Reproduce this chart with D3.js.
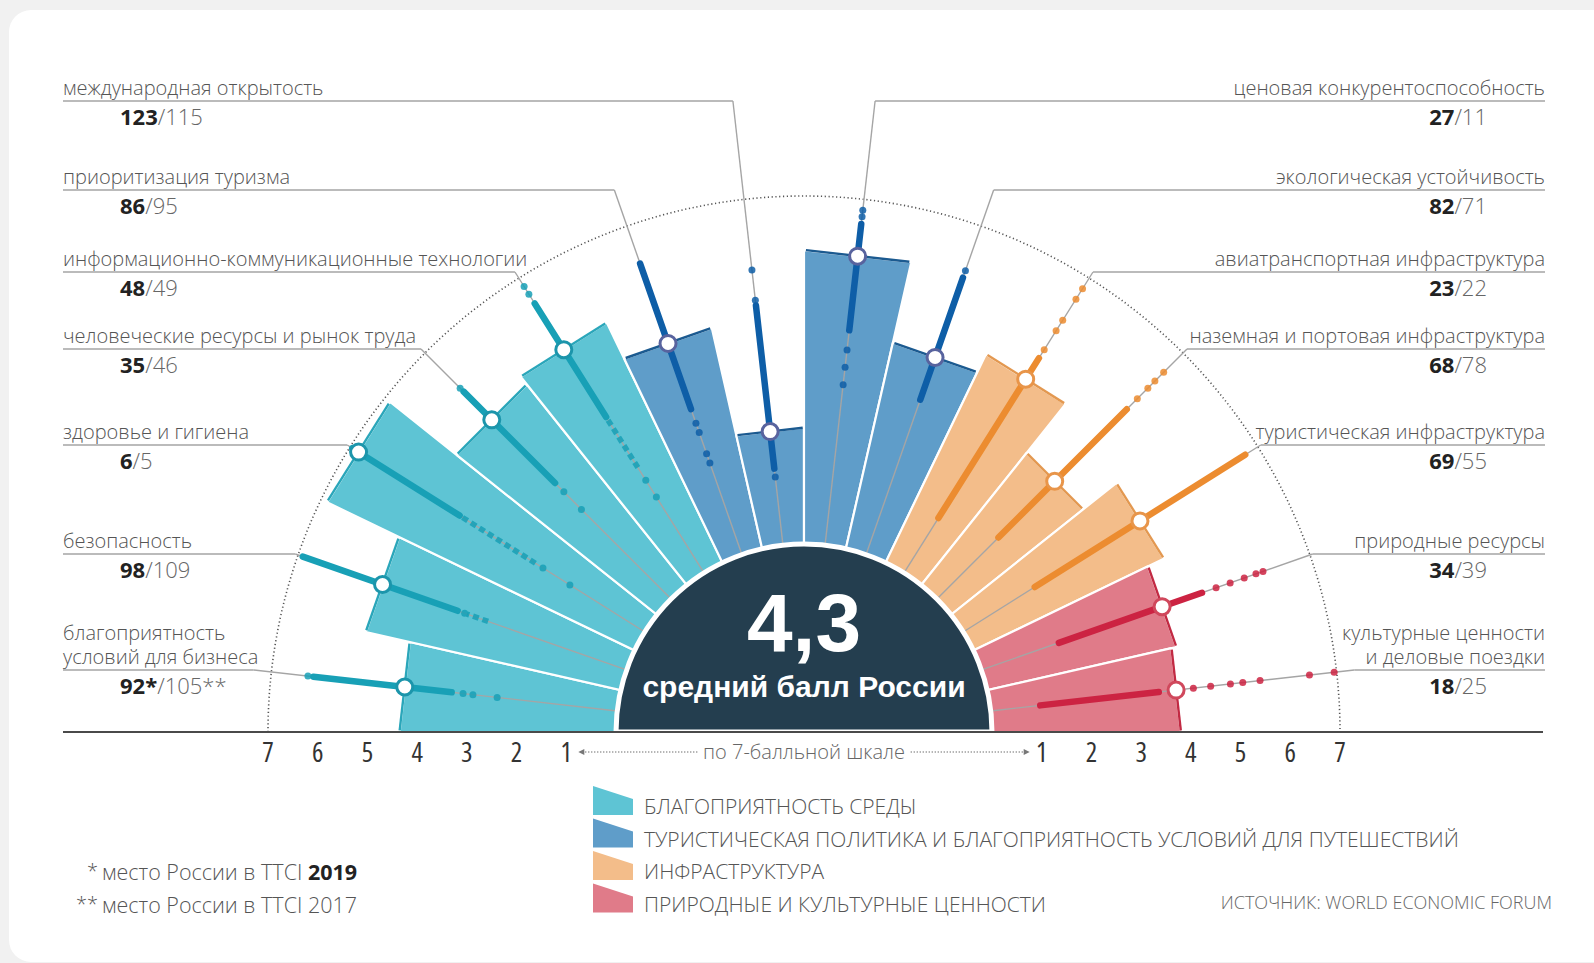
<!DOCTYPE html>
<html>
<head>
<meta charset="utf-8">
<script src="https://cdn.jsdelivr.net/npm/d3@7"></script>
<style>
  body { margin: 0; background: #f1f1f1; }
  svg { display: block; }
  .cond { font-family: "Open Sans", sans-serif; font-stretch: 75%; }
  .txt { font-family: "Open Sans", sans-serif; font-stretch: 100%; }
</style>
</head>
<body>
<div id="chart"></div>
<script>
// --- data ---
var pillars = [
  "благоприятность условий для бизнеса", "безопасность", "здоровье и гигиена",
  "человеческие ресурсы и рынок труда", "информационно-коммуникационные технологии",
  "приоритизация туризма", "международная открытость", "ценовая конкурентоспособность",
  "экологическая устойчивость", "авиатранспортная инфраструктура",
  "наземная и портовая инфраструктура", "туристическая инфраструктура",
  "природные ресурсы", "культурные ценности и деловые поездки"
];
var labelLines = [
  ["благоприятность", "условий для бизнеса"], ["безопасность"], ["здоровье и гигиена"],
  ["человеческие ресурсы и рынок труда"], ["информационно-коммуникационные технологии"],
  ["приоритизация туризма"], ["международная открытость"], ["ценовая конкурентоспособность"],
  ["экологическая устойчивость"], ["авиатранспортная инфраструктура"],
  ["наземная и портовая инфраструктура"], ["туристическая инфраструктура"],
  ["природные ресурсы"], ["культурные ценности", "и деловые поездки"]
];
var groups = [
  "БЛАГОПРИЯТНОСТЬ СРЕДЫ",
  "ТУРИСТИЧЕСКАЯ ПОЛИТИКА И БЛАГОПРИЯТНОСТЬ УСЛОВИЙ ДЛЯ ПУТЕШЕСТВИЙ",
  "ИНФРАСТРУКТУРА",
  "ПРИРОДНЫЕ И КУЛЬТУРНЫЕ ЦЕННОСТИ"
];
var pillarGroup = [0, 0, 0, 0, 0, 1, 1, 1, 1, 2, 2, 2, 3, 3];
var russiaScore = [4.3, 5.2, 6.8, 5.1, 5.3, 4.5, 2.3, 5.85, 4.2, 4.6, 3.35, 4.2, 3.85, 3.75];
var rank2019 = ["92*", "98", "6", "35", "48", "86", "123", "27", "82", "23", "68", "69", "34", "18"];
var rank2017 = ["105**", "109", "5", "46", "49", "95", "115", "11", "71", "22", "78", "55", "39", "25"];
var averageScore = 4.3;

// spread of all countries' scores: dense runs, loose runs and single dots
var denseRuns = [
  [[3.35, 6.15]], [[3.6, 6.9]], [[4.4, 6.95]], [[3.3, 5.9]], [[3.7, 6.4]],
  [[3.1, 6.2]], [[1.55, 4.85]], [[4.35, 6.5]], [[3.3, 5.9]], [[1.3, 5.1]],
  [[1.75, 5.4]], [[1.7, 6.7]], [[1.65, 3.7], [3.95, 4.7]], [[1.0, 3.4]]
];
var looseRuns = [
  [], [[2.95, 3.4]], [[2.6, 4.4]], [], [[2.5, 3.7]],
  [], [], [], [], [],
  [], [], [], []
];
var singleDots = [
  [6.26, 3.12, 2.92, 2.43], [3.45], [2.42, 1.78], [6.0, 3.05, 2.55], [6.8, 6.62, 2.2, 1.8],
  [2.8, 2.6, 2.15, 1.95], [4.96, 5.57, 1.38], [6.65, 6.78, 3.95, 3.6, 3.25], [6.05],
  [5.3, 5.75, 6.0, 6.5, 6.75], [5.7, 6.0, 6.2, 6.45], [],
  [5.0, 5.3, 5.6, 5.85, 6.0], [4.1, 4.45, 4.85, 5.1, 5.45, 6.45, 6.95]
];
var tickValues = [1, 2, 3, 4, 5, 6, 7];

// --- layout ---
var W = 1594, H = 963;
var cx = 804, cy = 732;
var rowY = [101, 190, 272, 349, 445, 554, 670];
var barColor = ["#5ec4d4", "#5f9dc9", "#f3bd8a", "#e07b89"];
var edgeColor = ["#2aa6ba", "#1b5a90", "#e39850", "#c22a43"];
var dotColor = ["#18a0b6", "#0e5ea7", "#ec8c30", "#cc2342"];
var ringColor = ["#1c95ab", "#58639e", "#e8954a", "#d0485c"];

var svg = d3.select("#chart").append("svg")
    .attr("width", W)
    .attr("height", H);

svg.append("rect")
    .attr("x", 9).attr("y", 10)
    .attr("width", W + 40).attr("height", H - 11)
    .attr("rx", 22)
    .attr("fill", "#fff");

var r = d3.scaleLinear().domain([0, 7]).range([188, 536]);
var angle = d3.scaleBand().domain(d3.range(pillars.length)).range([-Math.PI / 2, Math.PI / 2]);
var half = angle.bandwidth() / 2;

function pt(a, d) {
    return [cx + d * Math.sin(a), cy - d * Math.cos(a)];
}
function mid(i) { return angle(i) + half; }

var g = svg.append("g");

// outer dotted arc (7 points)
var arcPath = d3.path();
arcPath.arc(cx, cy, r(7), Math.PI, 2 * Math.PI);
g.append("path")
    .attr("d", arcPath.toString())
    .attr("fill", "none")
    .attr("stroke", "#555")
    .attr("stroke-width", 1.6)
    .attr("stroke-dasharray", "1.2,2.6");

// bars
var line = d3.line();
pillars.forEach(function(p, i) {
    var a0 = angle(i), a1 = a0 + angle.bandwidth();
    var R = r(russiaScore[i]) / Math.cos(half);
    var c = pillarGroup[i];
    g.append("path")
        .attr("d", line([[cx, cy], pt(a0, R), pt(a1, R)]) + "Z")
        .attr("fill", barColor[c])
        .attr("stroke", "#fff")
        .attr("stroke-width", 2.2)
        .attr("stroke-linejoin", "bevel");
    g.append("path")
        .attr("d", line([pt(a0 + 0.004, R), pt(a1 - 0.004, R)]))
        .attr("stroke", edgeColor[c])
        .attr("stroke-width", 2.4);
});

// radial spread lines
pillars.forEach(function(p, i) {
    var a = mid(i), c = pillarGroup[i];

    // leader: thin grey line from the centre out to the label row
    var row = i < 7 ? rowY[6 - i] : rowY[i - 7];
    var dRow = (cy - row) / Math.cos(a);
    g.append("path")
        .attr("d", line([pt(a, r(0)), pt(a, dRow)]))
        .attr("stroke", "#a5a5a5")
        .attr("stroke-width", 1.4);
    var end = pt(a, dRow);
    g.append("path")
        .attr("d", line(i < 7 ? [[63, row], end] : [end, [1545, row]]))
        .attr("stroke", "#a5a5a5")
        .attr("stroke-width", 1.4);

    looseRuns[i].forEach(function(s) {
        g.append("path")
            .attr("d", line([pt(a, r(s[0])), pt(a, r(s[1]))]))
            .attr("stroke", dotColor[c])
            .attr("stroke-width", 5.5)
            .attr("stroke-dasharray", "6,4")
            .attr("opacity", 0.85);
    });
    denseRuns[i].forEach(function(s) {
        g.append("path")
            .attr("d", line([pt(a, r(s[0])), pt(a, r(s[1]))]))
            .attr("stroke", dotColor[c])
            .attr("stroke-width", 6.5)
            .attr("stroke-linecap", "round");
    });
    g.selectAll(null).data(singleDots[i]).enter().append("circle")
        .attr("cx", function(v) { return pt(a, r(v))[0]; })
        .attr("cy", function(v) { return pt(a, r(v))[1]; })
        .attr("r", 3.5)
        .attr("fill", dotColor[c])
        .attr("opacity", 0.85);

    var rp = pt(a, r(russiaScore[i]));
    g.append("circle")
        .attr("cx", rp[0]).attr("cy", rp[1])
        .attr("r", 8)
        .attr("fill", "#fff")
        .attr("stroke", ringColor[c])
        .attr("stroke-width", 3);
});

// centre disc
var discPath = d3.path();
discPath.arc(cx, cy, r(0), Math.PI, 2 * Math.PI);
discPath.closePath();
g.append("path")
    .attr("d", discPath.toString())
    .attr("fill", "#243e4f")
    .attr("stroke", "#fff")
    .attr("stroke-width", 5);

g.append("text")
    .attr("x", cx).attr("y", 651)
    .attr("text-anchor", "middle")
    .attr("font-family", "Liberation Sans, Arial, sans-serif")
    .attr("font-weight", "bold")
    .attr("font-size", 82)
    .attr("fill", "#fff")
    .text(String(averageScore).replace(".", ","));
g.append("text")
    .attr("x", cx).attr("y", 697)
    .attr("text-anchor", "middle")
    .attr("font-family", "Liberation Sans, Arial, sans-serif")
    .attr("font-weight", "bold")
    .attr("font-size", 30)
    .attr("fill", "#fff")
    .text("средний балл России");

// baseline axis
g.append("path")
    .attr("d", line([[63, cy], [1543, cy]]))
    .attr("stroke", "#4a4a4a")
    .attr("stroke-width", 2);

[-1, 1].forEach(function(side) {
    g.selectAll(null).data(tickValues).enter().append("text")
        .attr("class", "cond")
        .attr("x", function(v) { return cx + side * r(v); })
        .attr("y", 762)
        .attr("text-anchor", "middle")
        .attr("font-size", 27)
        .attr("fill", "#333")
        .text(function(v) { return v; });
});

// "по 7-балльной шкале" with dotted arrows
var scaleLabel = g.append("text")
    .attr("class", "txt")
    .attr("x", cx).attr("y", 759)
    .attr("text-anchor", "middle")
    .attr("font-size", 20)
    .attr("font-weight", 300)
    .attr("fill", "#666")
    .text("по 7-балльной шкале");
var sw = scaleLabel.node().getComputedTextLength();
[[cx - r(1) + 12, cx - sw / 2 - 5], [cx + r(1) - 12, cx + sw / 2 + 5]].forEach(function(s) {
    var dir = s[0] < cx ? 1 : -1;
    g.append("path")
        .attr("d", line([[s[0] + dir * 4, 752], [s[1], 752]]))
        .attr("stroke", "#777")
        .attr("stroke-width", 1.3)
        .attr("stroke-dasharray", "1,2");
    g.append("path")
        .attr("d", line([[s[0], 752], [s[0] + dir * 6, 749], [s[0] + dir * 6, 755]]) + "Z")
        .attr("fill", "#777");
});

// labels
pillars.forEach(function(p, i) {
    var left = i < 7;
    var row = left ? rowY[6 - i] : rowY[i - 7];
    var x = left ? 63 : 1545;
    var lines = labelLines[i];
    lines.forEach(function(t, k) {
        g.append("text")
            .attr("class", "txt")
            .attr("x", x)
            .attr("y", row - 6 - (lines.length - 1 - k) * 24)
            .attr("text-anchor", left ? "start" : "end")
            .attr("font-size", 20)
            .attr("font-weight", 300)
            .attr("fill", "#555")
            .text(t);
    });
    var num = g.append("text")
        .attr("class", "txt")
        .attr("x", left ? 120 : 1487)
        .attr("y", row + 24)
        .attr("text-anchor", left ? "start" : "end")
        .attr("font-size", 22);
    num.append("tspan").attr("font-weight", 700).attr("fill", "#222").text(rank2019[i]);
    num.append("tspan").attr("font-weight", 300).attr("fill", "#666").text("/" + rank2017[i]);
});

// legend
groups.forEach(function(name, k) {
    var y0 = 786 + k * 32.5;
    g.append("path")
        .attr("d", line([[593, y0], [633, y0 + 13], [633, y0 + 29], [593, y0 + 29]]) + "Z")
        .attr("fill", barColor[k]);
    g.append("text")
        .attr("class", "txt")
        .attr("x", 644).attr("y", y0 + 28)
        .attr("font-size", 21)
        .attr("font-weight", 300)
        .attr("fill", "#555")
        .text(name);
});

// footnotes and source
var notes = [["*", "место России в TTCI ", "2019"], ["**", "место России в TTCI ", "2017"]];
notes.forEach(function(n, k) {
    var y = 880 + k * 33;
    g.append("text")
        .attr("class", "txt")
        .attr("x", 98).attr("y", y - 2)
        .attr("text-anchor", "end")
        .attr("font-size", 20).attr("font-weight", 300)
        .attr("fill", "#555")
        .text(n[0]);
    var t = g.append("text")
        .attr("class", "txt")
        .attr("x", 102).attr("y", y)
        .attr("font-size", 21.5);
    t.append("tspan").attr("font-weight", 300).attr("fill", "#555").text(n[1]);
    t.append("tspan").attr("font-weight", k === 0 ? 700 : 300)
        .attr("fill", k === 0 ? "#222" : "#555").text(n[2]);
});

g.append("text")
    .attr("class", "txt")
    .attr("x", 1552).attr("y", 909)
    .attr("text-anchor", "end")
    .attr("font-size", 18)
    .attr("font-weight", 300)
    .attr("fill", "#666")
    .text("ИСТОЧНИК: WORLD ECONOMIC FORUM");
</script>
</body>
</html>
